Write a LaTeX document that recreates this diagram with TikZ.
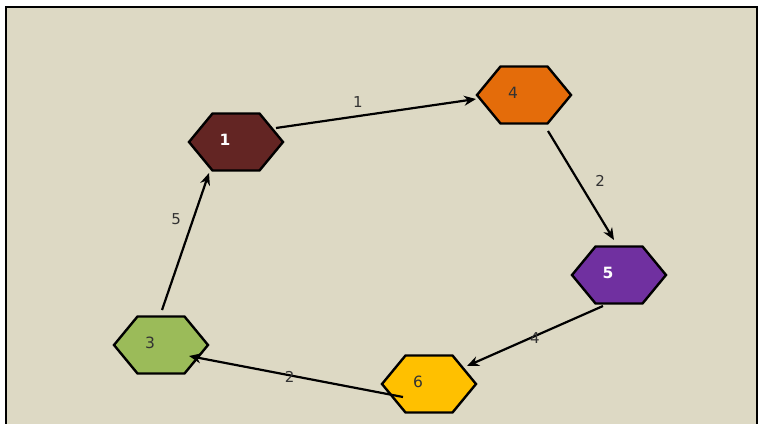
\documentclass[tikz,border=0pt]{standalone}
\usepackage{fontspec}
\setmainfont{DejaVu Sans}
\usetikzlibrary{arrows.meta}

\definecolor{bgsand}{HTML}{DDD9C4}
\definecolor{hexmaroon}{HTML}{632523}
\definecolor{hexorange}{HTML}{E46C0A}
\definecolor{hexpurple}{HTML}{7030A0}
\definecolor{hexgold}{HTML}{FFC000}
\definecolor{hexgreen}{HTML}{9BBB59}
\definecolor{darktext}{HTML}{333333}

\begin{document}
\begin{tikzpicture}[
    x=1pt, y=-1pt,
    hex/.style={minimum width=98pt, minimum height=61pt, inner sep=0pt,
                path picture={\filldraw[fill=#1, line width=2.4pt, line join=miter]
                  ([shift={(-47pt,0pt)}]path picture bounding box.center)
                  -- ([shift={(-23.5pt,28.5pt)}]path picture bounding box.center)
                  -- ([shift={(23.5pt,28.5pt)}]path picture bounding box.center)
                  -- ([shift={(47pt,0pt)}]path picture bounding box.center)
                  -- ([shift={(23.5pt,-28.5pt)}]path picture bounding box.center)
                  -- ([shift={(-23.5pt,-28.5pt)}]path picture bounding box.center)
                  -- cycle;}},
    num/.style={font=\fontsize{15.5}{17}\selectfont, text=darktext, inner sep=0pt,
                xshift=-11pt, yshift=2pt},
    numw/.style={num, text=white, font=\fontsize{15.5}{17}\selectfont\bfseries},
    arrow/.style={-{Stealth[length=12pt, width=10pt]}, line width=2.2pt},
    lbl/.style={font=\fontsize{15}{17}\selectfont, text=darktext, inner sep=0pt}
]

% --- frame and background ---
\useasboundingbox (0,0) rectangle (759,423);
\fill[white] (0,0) rectangle (759,423);
\fill[bgsand] (6,7) rectangle (757,430);
\draw[line width=2pt] (6,430) -- (6,7) -- (757,7) -- (757,430);

% --- hexagons ---
\node[hex=hexmaroon, label={[numw]center:1}] (n1) at (236,142) {};
\node[hex=hexorange, label={[num]center:4}] (n4) at (524,95) {};
\node[hex=hexpurple, label={[numw]center:5}] (n5) at (619,275) {};
\node[hex=hexgold, label={[num]center:6}] (n6) at (429,384) {};
\node[hex=hexgreen, label={[num]center:3}] (n3) at (161,345) {};

% --- weighted arrows round the cycle ---
\draw[arrow] ([shift={(40,-14)}]n1.center) -- node[lbl, pos=.41, above=8pt] {1}
    ([shift={(-48,4)}]n4.center);
\draw[arrow] ([shift={(24,36)}]n4.center) -- node[lbl, pos=.46, right=16pt] {2}
    ([shift={(-5,-35)}]n5.center);
\draw[arrow] ([shift={(-16,31)}]n5.center) -- node[lbl, pos=.5, yshift=-2pt] {4}
    ([shift={(38,-18)}]n6.center);
\draw[arrow] ([shift={(-26,13)}]n6.center) -- node[lbl, pos=.53, yshift=-2pt] {2}
    ([shift={(28,11)}]n3.center);
\draw[arrow] ([shift={(1,-35)}]n3.center) -- node[lbl, pos=.66, left=11pt] {5}
    ([shift={(-27,31)}]n1.center);

\end{tikzpicture}
\end{document}
